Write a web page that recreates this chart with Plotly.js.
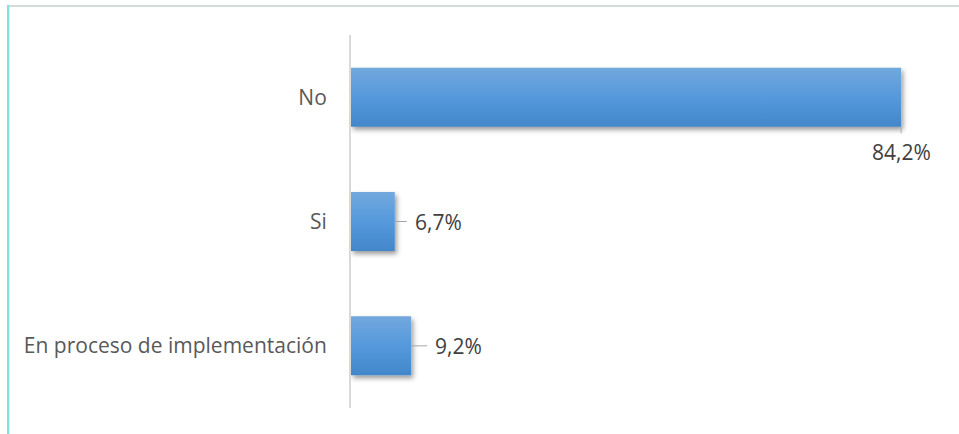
<!DOCTYPE html>
<html>
<head>
<meta charset="utf-8">
<script src="https://cdn.plot.ly/plotly-3.0.1.min.js"></script>
<style>
html,body{margin:0;padding:0;background:#ffffff;}
#wrap{position:relative;width:959px;height:434px;overflow:hidden;background:#ffffff;}
#frameTop{position:absolute;left:8px;top:5px;right:0;height:2px;background:#d2ddd9;}
#frameLeft{position:absolute;left:7px;top:5px;bottom:0;width:2px;background:#84e2de;}
#frameLeft2{position:absolute;left:9px;top:7px;bottom:0;width:1px;background:#e6ecea;}
#chart{position:absolute;left:0;top:0;width:959px;height:434px;}
</style>
</head>
<body>
<div id="wrap">
  <div id="frameTop"></div>
  <div id="frameLeft"></div>
  <div id="frameLeft2"></div>
  <div id="chart"></div>
</div>
<script>
// ---- data ----
const categories = ['No', 'Si', 'En proceso de implementación'];
const values = [84.2, 6.7, 9.2];
const valueLabels = ['84,2%', '6,7%', '9,2%'];

const FONT = '"Open Sans", "Noto Sans", sans-serif';

const trace = {
  type: 'bar',
  orientation: 'h',
  y: categories,
  x: values,
  marker: {color: '#5599da', line: {width: 0}},
  hoverinfo: 'none'
};

const leader = {showarrow: true, arrowhead: 0, arrowwidth: 1, arrowcolor: '#a6a6a6',
  standoff: 0, startstandoff: 0, axref: 'pixel', ayref: 'pixel',
  font: {family: FONT, size: 21, color: '#404040'}, bgcolor: 'rgba(0,0,0,0)', borderwidth: 1, bordercolor: 'rgba(0,0,0,0)'};

const annotations = [
  Object.assign({}, leader, {x: values[0], y: categories[0], text: valueLabels[0],
    ax: 0, ay: 6, yshift: -30, xanchor: 'center', yanchor: 'top', borderpad: 4}),
  Object.assign({}, leader, {x: values[1], y: categories[1], text: valueLabels[1],
    ax: 12, ay: 0, xanchor: 'left', yanchor: 'middle', borderpad: 7}),
  Object.assign({}, leader, {x: values[2], y: categories[2], text: valueLabels[2],
    ax: 16, ay: 0, xanchor: 'left', yanchor: 'middle', borderpad: 7})
];

const layout = {
  width: 959, height: 434,
  margin: {l: 351, r: 20, t: 35, b: 26, pad: 0},
  paper_bgcolor: 'rgba(0,0,0,0)',
  plot_bgcolor: 'rgba(0,0,0,0)',
  showlegend: false,
  bargap: 0.525,
  font: {family: FONT, size: 21, color: '#595959'},
  xaxis: {range: [0, 90], showgrid: false, zeroline: false, showticklabels: false,
    showline: false, ticks: '', fixedrange: true},
  yaxis: {type: 'category', range: [2.5, -0.5], autorange: false, showgrid: false, zeroline: false,
    showline: true, linecolor: '#d9d9d9', linewidth: 2,
    ticks: 'outside', ticklen: 18, tickcolor: 'rgba(0,0,0,0)',
    tickfont: {family: FONT, size: 21, color: '#595959'}, fixedrange: true},
  annotations: annotations
};

Plotly.newPlot('chart', [trace], layout, {displayModeBar: false, staticPlot: true}).then(function () {
  const svg = document.querySelector('#chart .main-svg');
  const NS = 'http://www.w3.org/2000/svg';
  let defs = svg.querySelector('defs');
  if (!defs) { defs = document.createElementNS(NS, 'defs'); svg.insertBefore(defs, svg.firstChild); }
  const grad = document.createElementNS(NS, 'linearGradient');
  grad.setAttribute('id', 'barGrad');
  grad.setAttribute('x1', '0'); grad.setAttribute('y1', '0');
  grad.setAttribute('x2', '0'); grad.setAttribute('y2', '1');
  [['0', '#72a8dd'], ['0.5', '#5599dc'], ['1', '#4287ca']].forEach(function (s) {
    const st = document.createElementNS(NS, 'stop');
    st.setAttribute('offset', s[0]); st.setAttribute('stop-color', s[1]);
    grad.appendChild(st);
  });
  defs.appendChild(grad);
  const filt = document.createElementNS(NS, 'filter');
  filt.setAttribute('id', 'barShadow');
  filt.setAttribute('x', '-10%'); filt.setAttribute('y', '-20%');
  filt.setAttribute('width', '130%'); filt.setAttribute('height', '160%');
  const ds = document.createElementNS(NS, 'feDropShadow');
  ds.setAttribute('dx', '2'); ds.setAttribute('dy', '3');
  ds.setAttribute('stdDeviation', '2.5');
  ds.setAttribute('flood-color', '#000'); ds.setAttribute('flood-opacity', '0.4');
  filt.appendChild(ds);
  defs.appendChild(filt);
  document.querySelectorAll('#chart .barlayer .point path').forEach(function (p) {
    p.style.fill = 'url(#barGrad)';
    p.setAttribute('filter', 'url(#barShadow)');
  });
});
</script>
</body>
</html>
